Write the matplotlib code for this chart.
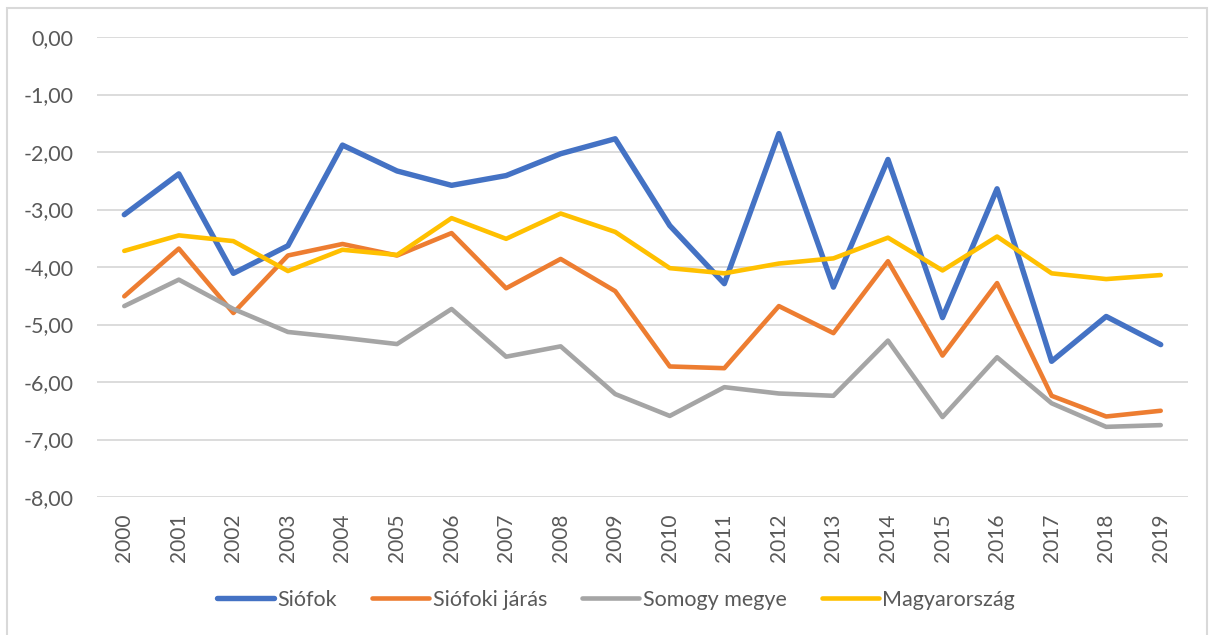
import matplotlib
matplotlib.use("Agg")
import matplotlib.pyplot as plt
from matplotlib.patches import Rectangle

years = [str(y) for y in range(2000, 2020)]
siofok = [-3.09, -2.38, -4.11, -3.63, -1.88, -2.33, -2.58, -2.41, -2.03, -1.77,
          -3.28, -4.29, -1.68, -4.35, -2.13, -4.88, -2.64, -5.64, -4.86, -5.35]
siofoki_jaras = [-4.51, -3.68, -4.80, -3.80, -3.60, -3.80, -3.41, -4.37, -3.86, -4.42,
                 -5.73, -5.76, -4.68, -5.15, -3.90, -5.54, -4.28, -6.24, -6.60, -6.50]
somogy = [-4.68, -4.22, -4.73, -5.13, -5.23, -5.34, -4.73, -5.56, -5.38, -6.21,
          -6.59, -6.09, -6.20, -6.24, -5.28, -6.61, -5.57, -6.37, -6.78, -6.75]
magyarorszag = [-3.72, -3.45, -3.55, -4.07, -3.70, -3.79, -3.15, -3.51, -3.07, -3.39,
                -4.02, -4.11, -3.94, -3.85, -3.49, -4.06, -3.47, -4.11, -4.21, -4.14]
series_names = ["Siófok", "Siófoki járás", "Somogy megye", "Magyarország"]
yticks = [0, -1, -2, -3, -4, -5, -6, -7, -8]

colors = ["#4472C4", "#ED7D31", "#A5A5A5", "#FFC000"]
widths = [3.9, 3.3, 3.3, 3.3]

plt.rcParams['font.family'] = ['Lato', 'DejaVu Sans']
W, H = 1214, 635
fig = plt.figure(figsize=(W / 100, H / 100), dpi=100)
ax = fig.add_axes([97 / W, 1 - 497 / H, (1188 - 97) / W, (497 - 37) / H])

x = list(range(len(years)))
for data, name, c, lw in zip([siofok, siofoki_jaras, somogy, magyarorszag], series_names, colors, widths):
    ax.plot(x, data, color=c, lw=lw, label=name, solid_joinstyle='round', solid_capstyle='round')

ax.set_xlim(-0.5, len(years) - 0.5)
ax.set_ylim(-8, 0)
ax.set_yticks(yticks)
ax.set_yticklabels([f"{v:.2f}".replace(".", ",") for v in yticks], fontsize=15.5, color="#595959")
ax.set_xticks(x)
ax.set_xticklabels(years, rotation=90, fontsize=15, color="#595959")
ax.tick_params(length=0, pad=17, axis='y')
ax.tick_params(length=0, pad=12, axis='x')
ax.grid(axis='y', color="#D9D9D9", lw=1.3)
ax.set_axisbelow(True)
for s in ax.spines.values():
    s.set_visible(False)

leg = fig.legend(loc='center', bbox_to_anchor=(0.5074, 1 - 600 / H), ncol=4, frameon=False,
                 fontsize=15.5, handlelength=2.65, handletextpad=0.15, columnspacing=1.65)
for t in leg.get_texts():
    t.set_color("#595959")

fig.patches.append(Rectangle((7 / W, -0.05), (1207 - 7) / W, 1.05 - 8 / H, transform=fig.transFigure,
                             fill=False, edgecolor="#D9D9D9", lw=1.5))

fig.savefig("out.png", dpi=100, facecolor="white")
